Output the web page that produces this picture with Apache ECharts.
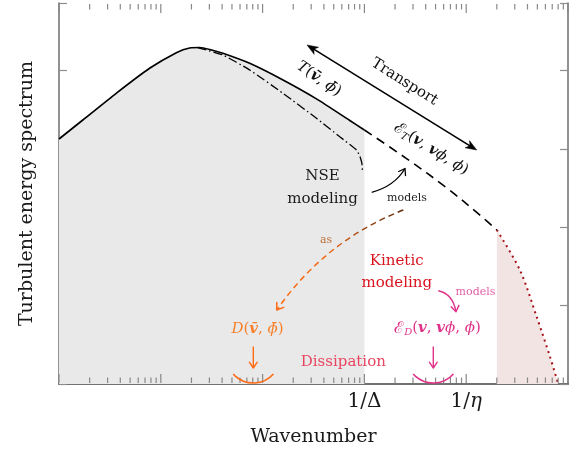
<!DOCTYPE html>
<html><head><meta charset="utf-8">
<script src="https://cdn.jsdelivr.net/npm/echarts@6/dist/echarts.min.js"></script>
<style>html,body{margin:0;padding:0;background:#fff}#c{width:578px;height:456px}</style>
</head><body><div id="c"></div>
<script>
// ---- data (wavenumber k on log axis, spectrum level on linear axis) ----
const solidK = [1, 1.714, 3.651, 7.76, 14.21, 19.2, 24.07, 31.59, 40.79, 74.7, 158.7, 338.1, 718.7, 1000];
const solidY = [3.128, 3.370, 3.711, 4.030, 4.230, 4.290, 4.296, 4.264, 4.222, 4.094, 3.881, 3.640, 3.364, 3.243];
const dashK = [1000, 2594, 6417, 13640, 20000];
const dashY = [3.243, 2.878, 2.505, 2.156, 1.966];
const dotK = [20000, 33700, 49200, 66500, 80300];
const dotY = [1.966, 1.455, 0.859, 0.349, 0.0];
const dashDotK = [23.0, 28.0, 40.8, 74.7, 158.7, 338.1, 573, 836, 901, 943, 958];
const dashDotY = [4.295, 4.264, 4.200, 4.009, 3.711, 3.392, 3.157, 2.987, 2.911, 2.822, 2.710];
const decades = [1, 10, 100, 1000, 10000, 100000];
const minorMult = [2, 3, 4, 5, 6, 7, 8, 9];
const labelK = [1000, 10000];
const labelText = ['1/Δ', '1/{i|η}'];
const xMin = 1, xMax = 100000, yMin = 0, yMax = 4.864;

const F = 'DejaVu Serif';
const pairs = (a, b) => a.map((v, i) => [v, b[i]]);
// axis tick marks: [k, isMajor]
const xTicks = [];
decades.forEach(d => {
  xTicks.push([d, 1]);
  if (d < xMax) minorMult.forEach(m => xTicks.push([d * m, 0]));
});

const chart = echarts.init(document.getElementById('c'), null, {renderer: 'canvas'});

function mathRich(size) {
  return {
    it: {fontStyle: 'italic', fontSize: size, fontFamily: F},
    bi: {fontStyle: 'italic', fontWeight: 'bold', fontSize: size, fontFamily: F},
    sc: {fontSize: size + 1, fontFamily: F},
    sub: {fontStyle: 'italic', fontSize: Math.round(size * 0.68), fontFamily: F, padding: [8, 0, 0, 0]}
  };
}
function txt(x, y, text, size, color, o) {
  o = o || {};
  return {type: 'text', x: x, y: y, rotation: o.rot || 0, z: 120, silent: true,
    style: {text: text, fill: color, fontSize: size, fontFamily: F, fontStyle: o.italic ? 'italic' : 'normal',
      align: 'center', verticalAlign: 'middle', textAlign: 'center', textVerticalAlign: 'middle',
      lineHeight: o.lh, rich: o.rich}};
}
function openHead(tx, ty, ang, len, spread, color, lw) {
  const a1 = ang + Math.PI - spread, a2 = ang + Math.PI + spread;
  return {type: 'polyline', z: 110, silent: true, shape: {points: [
      [tx + len * Math.cos(a1), ty + len * Math.sin(a1)], [tx, ty],
      [tx + len * Math.cos(a2), ty + len * Math.sin(a2)]]},
    style: {stroke: color, lineWidth: lw, fill: null, lineCap: 'round', lineJoin: 'round'}};
}
function stealth(tx, ty, ang, len, half, color) {
  const c = Math.cos(ang), s = Math.sin(ang), nx = -s, ny = c;
  const bx = tx - len * c, by = ty - len * s;
  const mx = tx - 0.72 * len * c, my = ty - 0.72 * len * s;
  return {type: 'polygon', z: 110, silent: true, shape: {points: [[tx, ty], [bx + half * nx, by + half * ny], [mx, my], [bx - half * nx, by - half * ny]]},
    style: {fill: color, stroke: color, lineWidth: 0.5}};
}
function quad(x1, y1, cx, cy, x2, y2, stroke, lw, dash) {
  return {type: 'bezierCurve', z: 110, silent: true, shape: {x1: x1, y1: y1, cpx1: cx, cpy1: cy, x2: x2, y2: y2},
    style: {stroke: stroke, lineWidth: lw, fill: null, lineDash: dash || null}};
}

const graphics = [];
// Transport double arrow
(function () {
  const x1 = 307, y1 = 45, x2 = 476.7, y2 = 150;
  const ang = Math.atan2(y2 - y1, x2 - x1), c = Math.cos(ang), s = Math.sin(ang);
  graphics.push({type: 'line', z: 110, silent: true, shape: {x1: x1 + 6 * c, y1: y1 + 6 * s, x2: x2 - 6 * c, y2: y2 - 6 * s}, style: {stroke: '#000', lineWidth: 1.6}});
  graphics.push(stealth(x1, y1, ang + Math.PI, 11, 4.2, '#000'));
  graphics.push(stealth(x2, y2, ang, 11, 4.2, '#000'));
})();
const rotA = -0.56;
graphics.push(txt(404.5, 82, 'Transport', 15, '#111', {rot: rotA}));
graphics.push(txt(319, 79, '{it|T}({bi|v\u0304}, {it|\u03D5\u0304})', 15, '#111', {rot: -0.6, rich: mathRich(15)}));
graphics.push(txt(431, 149, '{sc|ℰ}{sub|T}({bi|v}, {bi|v}{it|\u03D5}, {it|\u03D5})', 15, '#111', {rot: rotA, rich: mathRich(15)}));
// NSE modeling
graphics.push(txt(322.5, 187.5, 'NSE\nmodeling', 15, '#1a1a1a', {lh: 23}));
graphics.push(txt(407, 198, 'models', 11, '#222'));
graphics.push(quad(371.7, 192.3, 394.7, 186.1, 405, 168.5, '#000', 1.3));
graphics.push(openHead(405, 168.5, Math.atan2(168.5 - 186.1, 405 - 394.7), 7, 0.6, '#000', 1.3));
// brown/orange dashed "as" arrow
graphics.push(quad(403.3, 210, 325.5, 240.5, 277.5, 309,
  new echarts.graphic.LinearGradient(1, 0, 0, 1, [
    {offset: 0, color: '#5a2a0c'}, {offset: 0.3, color: '#a8501a'}, {offset: 0.55, color: '#f26a14'}, {offset: 1, color: '#ff6a13'}]),
  1.5, [6, 4]));
graphics.push(openHead(276.7, 310, Math.atan2(309 - 240.5, 277.5 - 325.5), 7.5, 0.6, '#ff6a13', 1.5));
graphics.push(txt(326, 240, 'as', 11, '#b8703a'));
// Kinetic modeling
graphics.push(txt(396.7, 272.5, 'Kinetic\nmodeling', 15, '#d9141e', {lh: 22}));
graphics.push(quad(438.3, 290.7, 453, 294, 456, 311.7, '#e0338a', 1.4));
graphics.push(openHead(456, 311.7, Math.atan2(311.7 - 294, 456 - 453), 7, 0.6, '#e0338a', 1.4));
graphics.push(txt(475.5, 292, 'models', 11, '#e060a8'));
// dissipation terms
graphics.push(txt(257.5, 329, '{it|D}({bi|v\u0304}, {it|\u03D5\u0304})', 15, '#f7802a', {rich: mathRich(15)}));
graphics.push(txt(437.5, 328.5, '{sc|ℰ}{sub|D}({bi|v}, {bi|v}{it|\u03D5}, {it|\u03D5})', 15, '#e0338a', {rich: mathRich(15)}));
[[253.3, '#ff6a13'], [433.3, '#e0338a']].forEach(function (a) {
  graphics.push({type: 'line', z: 110, silent: true, shape: {x1: a[0], y1: 346.5, x2: a[0], y2: 368}, style: {stroke: a[1], lineWidth: 1.4}});
  graphics.push(openHead(a[0], 368, Math.PI / 2, 7, 0.6, a[1], 1.4));
  graphics.push({type: 'arc', z: 110, silent: true, shape: {cx: a[0], cy: 356, r: 27, startAngle: 0.73, endAngle: 2.41, clockwise: true},
    style: {stroke: a[1], lineWidth: 1.6, fill: null}});
});
graphics.push(txt(343.3, 362.5, 'Dissipation', 15, '#e94560'));

const axisFont = {fontFamily: F, fontSize: 19, color: '#1a1a1a'};
const option = {
  animation: false,
  backgroundColor: '#fff',
  grid: {left: 59, right: 10, top: 3, bottom: 72, containLabel: false},
  xAxis: [{
    type: 'log', logBase: 10, min: xMin, max: xMax, position: 'bottom',
    name: 'Wavenumber', nameLocation: 'middle', nameGap: 44, nameTextStyle: axisFont,
    axisLine: {show: true, lineStyle: {color: '#333', width: 1.5}},
    axisTick: {show: false},
    splitLine: {show: false},
    axisLabel: {
      show: true, margin: 8, color: '#1a1a1a', fontFamily: F, fontSize: 20, showMinLabel: true, showMaxLabel: true,
      formatter: function (v) {
        const i = labelK.findIndex(k => Math.abs(Math.log10(k) - Math.log10(v)) < 1e-6);
        return i >= 0 ? labelText[i] : '';
      },
      rich: {i: {fontStyle: 'italic', fontFamily: F, fontSize: 20, color: '#1a1a1a'}}
    }
  }, {
    type: 'log', logBase: 10, min: xMin, max: xMax, position: 'top',
    axisLine: {show: true, lineStyle: {color: '#777', width: 1.5}},
    axisTick: {show: false},
    axisLabel: {show: false}, splitLine: {show: false}
  }],
  yAxis: [{
    type: 'value', min: yMin, max: yMax, interval: 1, position: 'left',
    name: 'Turbulent energy spectrum', nameLocation: 'middle', nameGap: 22, nameTextStyle: axisFont,
    axisLine: {show: true, lineStyle: {color: '#777', width: 1.6}},
    axisTick: {show: true, inside: true, length: 8, lineStyle: {color: '#8c8c8c', width: 1.2}},
    axisLabel: {show: false}, splitLine: {show: false}
  }, {
    type: 'value', min: yMin, max: yMax, interval: 1, position: 'right',
    axisLine: {show: true, lineStyle: {color: '#777', width: 1.6}},
    axisTick: {show: true, inside: true, length: 8, lineStyle: {color: '#8c8c8c', width: 1.2}},
    axisLabel: {show: false}, splitLine: {show: false}
  }],
  series: [
    {type: 'line', name: 'resolved', data: pairs(solidK, solidY), symbol: 'none', smooth: 0.25, z: 3,
      lineStyle: {color: '#000', width: 1.7}, areaStyle: {color: '#e9e9e9', opacity: 1}},
    {type: 'line', name: 'subgrid', data: pairs(dashK, dashY), symbol: 'none', smooth: 0.35, z: 4,
      lineStyle: {color: '#000', width: 1.6, type: [9, 6]}},
    {type: 'line', name: 'dissipative', data: pairs(dotK, dotY), symbol: 'none', smooth: 0.3, z: 3,
      lineStyle: {color: '#a50f15', width: 2, type: [2, 4]}, areaStyle: {color: '#f3e4e4', opacity: 1}},
    {type: 'line', name: 'model', data: pairs(dashDotK, dashDotY), symbol: 'none', smooth: 0.15, z: 4,
      lineStyle: {color: '#000', width: 1.3, type: [9, 3, 1.5, 3]}},
    {type: 'custom', name: 'axis ticks', data: xTicks, silent: true, z: 6, clip: false,
      encode: {x: 0, y: 1},
      renderItem: function (params, api) {
        const k = api.value(0), len = api.value(1) ? 9 : 5.5;
        const b = api.coord([k, yMin]), t = api.coord([k, yMax]);
        const st = {stroke: '#888', lineWidth: 1.2};
        return {type: 'group', children: [
          {type: 'line', shape: {x1: b[0], y1: b[1] - 1, x2: b[0], y2: b[1] - 1 - len}, style: st},
          {type: 'line', shape: {x1: t[0], y1: t[1] + 1, x2: t[0], y2: t[1] + 1 + len}, style: st}
        ]};
      }}
  ],
  graphic: graphics
};
chart.setOption(option);
</script>
</body></html>
